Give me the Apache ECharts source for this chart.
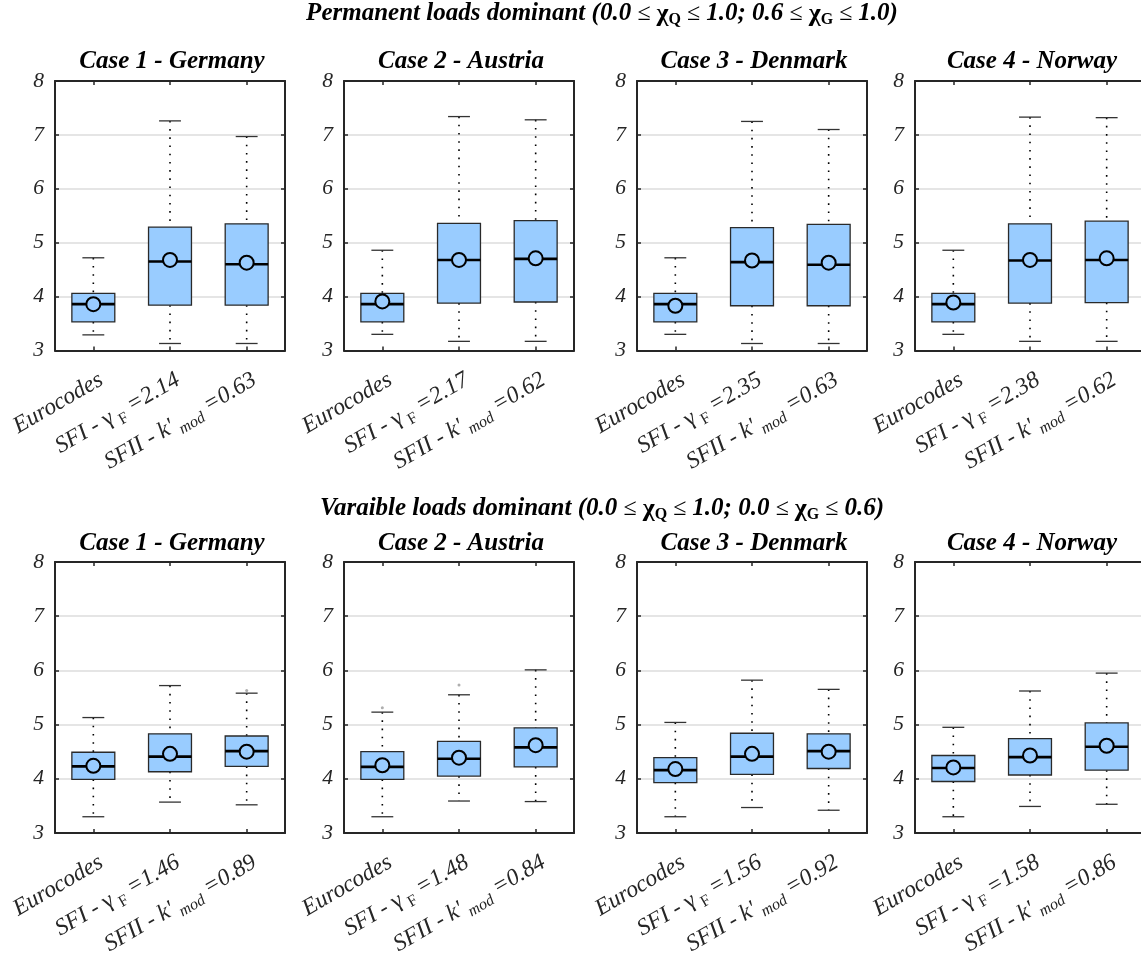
<!DOCTYPE html>
<html><head><meta charset="utf-8">
<script src="https://cdn.jsdelivr.net/npm/echarts@6/dist/echarts.min.js"></script>
<style>html,body{margin:0;padding:0;background:#fff}#c{width:1141px;height:956px}</style>
</head><body><div id="c"></div>
<script>
// ---------------- data ----------------
const yTicks = [3, 4, 5, 6, 7, 8];
const categories = ['Eurocodes', 'SFI', 'SFII'];
const panelTitles = ['Case 1 - Germany', 'Case 2 - Austria', 'Case 3 - Denmark', 'Case 4 - Norway'];
const rowTitles = ['Permanent loads dominant', 'Varaible loads dominant'];
const rowRanges = [['1.0', '0.6', '1.0'], ['1.0', '0.0', '0.6']];
const sfiPerm = ['2.14', '2.17', '2.35', '2.38'];
const sfiiPerm = ['0.63', '0.62', '0.63', '0.62'];
const sfiVar = ['1.46', '1.48', '1.56', '1.58'];
const sfiiVar = ['0.89', '0.84', '0.92', '0.86'];

// each box: [lower whisker, q1, median, q3, upper whisker]
const permGermany = [[3.29, 3.53, 3.86, 4.06, 4.72], [3.13, 3.84, 4.65, 5.29, 7.26], [3.13, 3.84, 4.60, 5.35, 6.97]];
const permGermanyMean = [3.86, 4.68, 4.63];
const permAustria = [[3.30, 3.53, 3.86, 4.06, 4.86], [3.17, 3.88, 4.68, 5.36, 7.34], [3.17, 3.90, 4.70, 5.41, 7.28]];
const permAustriaMean = [3.91, 4.68, 4.71];
const permDenmark = [[3.30, 3.53, 3.86, 4.06, 4.72], [3.13, 3.83, 4.64, 5.28, 7.25], [3.13, 3.83, 4.59, 5.34, 7.10]];
const permDenmarkMean = [3.83, 4.67, 4.63];
const permNorway = [[3.30, 3.53, 3.86, 4.06, 4.86], [3.17, 3.88, 4.67, 5.35, 7.33], [3.17, 3.89, 4.68, 5.40, 7.32]];
const permNorwayMean = [3.89, 4.68, 4.71];

const varGermany = [[3.30, 3.99, 4.23, 4.49, 5.13], [3.57, 4.13, 4.41, 4.83, 5.72], [3.52, 4.23, 4.51, 4.79, 5.58]];
const varGermanyMean = [4.24, 4.46, 4.50];
const varAustria = [[3.30, 3.99, 4.22, 4.50, 5.23], [3.59, 4.05, 4.37, 4.69, 5.55], [3.58, 4.22, 4.58, 4.94, 6.01]];
const varAustriaMean = [4.25, 4.39, 4.62];
const varDenmark = [[3.30, 3.93, 4.16, 4.39, 5.04], [3.47, 4.08, 4.41, 4.84, 5.82], [3.42, 4.19, 4.51, 4.83, 5.65]];
const varDenmarkMean = [4.18, 4.46, 4.50];
const varNorway = [[3.30, 3.95, 4.20, 4.43, 4.95], [3.49, 4.07, 4.40, 4.74, 5.62], [3.53, 4.16, 4.59, 5.03, 5.95]];
const varNorwayMean = [4.21, 4.43, 4.61];

// outliers: [category index, value]
const varGermanyOut = [[2, 5.63]];
const varAustriaOut = [[0, 5.31], [1, 5.73]];

// ---------------- layout / style ----------------
const panels = [
  { boxes: permGermany, means: permGermanyMean, out: [], sfi: sfiPerm[0], sfii: sfiiPerm[0] },
  { boxes: permAustria, means: permAustriaMean, out: [], sfi: sfiPerm[1], sfii: sfiiPerm[1] },
  { boxes: permDenmark, means: permDenmarkMean, out: [], sfi: sfiPerm[2], sfii: sfiiPerm[2] },
  { boxes: permNorway, means: permNorwayMean, out: [], sfi: sfiPerm[3], sfii: sfiiPerm[3] },
  { boxes: varGermany, means: varGermanyMean, out: varGermanyOut, sfi: sfiVar[0], sfii: sfiiVar[0] },
  { boxes: varAustria, means: varAustriaMean, out: varAustriaOut, sfi: sfiVar[1], sfii: sfiiVar[1] },
  { boxes: varDenmark, means: varDenmarkMean, out: [], sfi: sfiVar[2], sfii: sfiiVar[2] },
  { boxes: varNorway, means: varNorwayMean, out: [], sfi: sfiVar[3], sfii: sfiiVar[3] }
];
const lefts = [55, 344, 637, 915];
const panelW = 230;
const rowTop = [81, 562];
const rowH = [269.5, 271];
const serif = 'Liberation Serif';
const ink = '#262626';
const boxFill = '#99ccff';

const labelRich = {
  t: { fontFamily: serif, fontStyle: 'italic', fontSize: 23.5, lineHeight: 32, color: ink },
  g: { fontFamily: serif, fontStyle: 'normal', fontSize: 23.5, lineHeight: 32, color: ink },
  s: { fontFamily: serif, fontStyle: 'normal', fontSize: 16, lineHeight: 16, verticalAlign: 'bottom', color: ink },
  si: { fontFamily: serif, fontStyle: 'italic', fontSize: 16, lineHeight: 16, verticalAlign: 'bottom', color: ink }
};

function renderBox(params, api) {
  const x = api.value(0);
  const pLo = api.coord([x, api.value(1)]);
  const pQ1 = api.coord([x, api.value(2)]);
  const pMed = api.coord([x, api.value(3)]);
  const pQ3 = api.coord([x, api.value(4)]);
  const pHi = api.coord([x, api.value(5)]);
  const pMean = api.coord([x, api.value(6)]);
  const band = api.size([1, 0])[0];
  const bw = band * 0.56;
  const cw = bw * 0.51;
  const cx = pMed[0];
  const dotted = { stroke: '#000', lineWidth: 1.6, lineDash: [1.6, 6.6] };
  const cap = { stroke: '#333', lineWidth: 1.3 };
  return {
    type: 'group',
    children: [
      { type: 'line', shape: { x1: cx, y1: pHi[1], x2: cx, y2: pQ3[1] }, style: dotted },
      { type: 'line', shape: { x1: cx, y1: pQ1[1], x2: cx, y2: pLo[1] }, style: dotted },
      { type: 'line', shape: { x1: cx - cw / 2, y1: pHi[1], x2: cx + cw / 2, y2: pHi[1] }, style: cap },
      { type: 'line', shape: { x1: cx - cw / 2, y1: pLo[1], x2: cx + cw / 2, y2: pLo[1] }, style: cap },
      { type: 'rect', shape: { x: cx - bw / 2, y: pQ3[1], width: bw, height: pQ1[1] - pQ3[1] },
        style: { fill: boxFill, stroke: '#2a2a2a', lineWidth: 1.3 } },
      { type: 'line', shape: { x1: cx - bw / 2, y1: pMed[1], x2: cx + bw / 2, y2: pMed[1] },
        style: { stroke: '#000', lineWidth: 2.6 } },
      { type: 'circle', shape: { cx: cx, cy: pMean[1], r: 7 },
        style: { fill: boxFill, stroke: '#000', lineWidth: 2 } }
    ]
  };
}

const grid = [], xAxis = [], yAxis = [], series = [], title = [];
panels.forEach((p, i) => {
  const row = Math.floor(i / 4), col = i % 4;
  grid.push({ left: lefts[col], top: rowTop[row], width: panelW, height: rowH[row], containLabel: false, outerBoundsMode: 'none' });
  const fmt = (v) => {
    if (v === 'Eurocodes') return '{t|Eurocodes}';
    if (v === 'SFI') return '{t|SFI - }{g|γ}{s| F}{t| =' + p.sfi + '}';
    return '{t|SFII - k\'}{si| mod}{t| =' + p.sfii + '}';
  };
  const xLine = { show: true, lineStyle: { color: ink, width: 2 } };
  const xTick = { show: true, inside: true, alignWithLabel: true, length: 4, lineStyle: { color: ink, width: 1.5 } };
  xAxis.push({
    gridIndex: i, type: 'category', data: categories, position: 'bottom', boundaryGap: true,
    axisLine: xLine, axisTick: xTick, splitLine: { show: false },
    axisLabel: { rotate: 30, margin: 14, align: 'right', verticalAlign: 'top', formatter: fmt, rich: labelRich, interval: 0 }
  });
  xAxis.push({
    gridIndex: i, type: 'category', data: categories, position: 'top', boundaryGap: true,
    axisLine: xLine, axisTick: xTick, axisLabel: { show: false }, splitLine: { show: false }
  });
  const yCommon = {
    gridIndex: i, type: 'value', min: yTicks[0], max: yTicks[yTicks.length - 1], interval: 1,
    axisLine: { show: true, lineStyle: { color: ink, width: 2 } },
    axisTick: { show: true, inside: true, length: 4, lineStyle: { color: ink, width: 1.5 } }
  };
  yAxis.push(Object.assign({}, yCommon, {
    position: 'left',
    axisLabel: { fontFamily: serif, fontStyle: 'italic', fontSize: 21.5, color: ink, margin: 11 },
    splitLine: { show: true, showMinLine: false, showMaxLine: false, lineStyle: { color: '#dcdcdc', width: 1.6 } }
  }));
  yAxis.push(Object.assign({}, yCommon, {
    position: 'right', axisLabel: { show: false }, splitLine: { show: false }
  }));
  const data = p.boxes.map((b, k) => [k, b[0], b[1], b[2], b[3], b[4], p.means[k]]);
  series.push({
    type: 'custom', xAxisIndex: 2 * i, yAxisIndex: 2 * i, renderItem: renderBox,
    encode: { x: 0, y: [1, 2, 3, 4, 5, 6] }, data: data, z: 5, silent: true
  });
  if (p.out.length) {
    series.push({
      type: 'scatter', xAxisIndex: 2 * i, yAxisIndex: 2 * i, data: p.out,
      symbol: 'circle', symbolSize: 3, itemStyle: { color: '#9a9a9a' }, z: 6, silent: true
    });
  }
  title.push({
    text: panelTitles[col], left: lefts[col] + panelW / 2 - 3, textAlign: 'center',
    top: row === 0 ? 44 : 526,
    textStyle: { fontFamily: serif, fontStyle: 'italic', fontWeight: 'bold', fontSize: 25, color: '#000' }
  });
});

const supRich = {
  b: { fontFamily: serif, fontStyle: 'italic', fontWeight: 'bold', fontSize: 25, lineHeight: 28, color: '#000' },
  m: { fontFamily: serif, fontStyle: 'normal', fontWeight: 'normal', fontSize: 24, lineHeight: 28, color: '#000' },
  x: { fontFamily: serif, fontStyle: 'normal', fontWeight: 'bold', fontSize: 26, lineHeight: 28, color: '#000' },
  s: { fontFamily: serif, fontStyle: 'normal', fontWeight: 'bold', fontSize: 16, lineHeight: 16, verticalAlign: 'bottom', color: '#000' }
};
rowTitles.forEach((t, r) => {
  const rg = rowRanges[r];
  const txt = '{b|' + t + ' (0.0 }{m|≤ }{x|χ}{s|Q}{m| ≤ }{b|' + rg[0] + '; ' + rg[1] + ' }{m|≤ }{x|χ}{s|G}{m| ≤ }{b|' + rg[2] + ')}';
  title.push({ text: txt, left: 597, textAlign: 'center', top: r === 0 ? -5 : 490, textStyle: { rich: supRich } });
});

const chart = echarts.init(document.getElementById('c'), null, { renderer: 'canvas' });
chart.setOption({ animation: false, backgroundColor: '#fff', title, grid, xAxis, yAxis, series });
</script>
</body></html>
